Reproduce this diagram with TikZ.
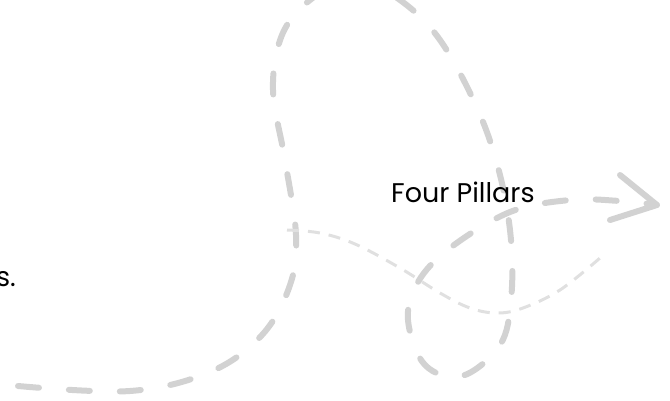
\documentclass[tikz,border=0pt]{standalone}
\usepackage{fontspec}
\setmainfont{Poppins}
\definecolor{thickgray}{HTML}{D2D2D2}
\definecolor{thingray}{HTML}{E0E0E0}
\tikzset{
  thickdash/.style={draw=thickgray, line width=6pt, line cap=round, line join=round,
    dash pattern=on 21pt off 30pt},
  thindash/.style={draw=thingray, line width=3pt, dash pattern=on 12pt off 9pt},
  chevron/.style={draw=thickgray, line width=6pt, line cap=round, line join=round},
  label/.style={inner sep=0pt, font=\fontsize{27}{32}\selectfont, text=black}
}
\begin{document}
\begin{tikzpicture}[x=1pt,y=-1pt]
\useasboundingbox (0,0) rectangle (670,400);
\clip (0,0) rectangle (670,400);
% thick looping path
\coordinate (start) at (18,386);
\coordinate (tip) at (657,205);
\draw[thickdash] plot[smooth, tension=0.6] coordinates {
  (18,386) (130,391) (210,372) (262,335) (290,285) (296,235) (285,160)
  (273,90) (282,35) (310,0) (355,-22) (400,0) (440,40) (478,110) (500,175)
  (511,240) (511,300) (500,345) (462,376) (425,365) (408,320) (418,282)
  (450,248) (510,212) (570,200) (620,201) (657,205)};
% arrow head
\coordinate (armA) at (620,175);
\coordinate (armB) at (610,220);
\draw[chevron] (armA) -- (tip) -- (armB);
% thin wavy path
\draw[thindash] plot[smooth, tension=0.6] coordinates {
  (287,230) (320,233) (355,244) (400,268) (440,293) (470,308) (497,313)
  (523,308) (560,290) (600,258)};
% texts
\node[label, anchor=base west] (pillars) at (391,202) {Four Pillars};
\node[label, anchor=base east] (tail) at (16,286) {s.};
\end{tikzpicture}
\end{document}
